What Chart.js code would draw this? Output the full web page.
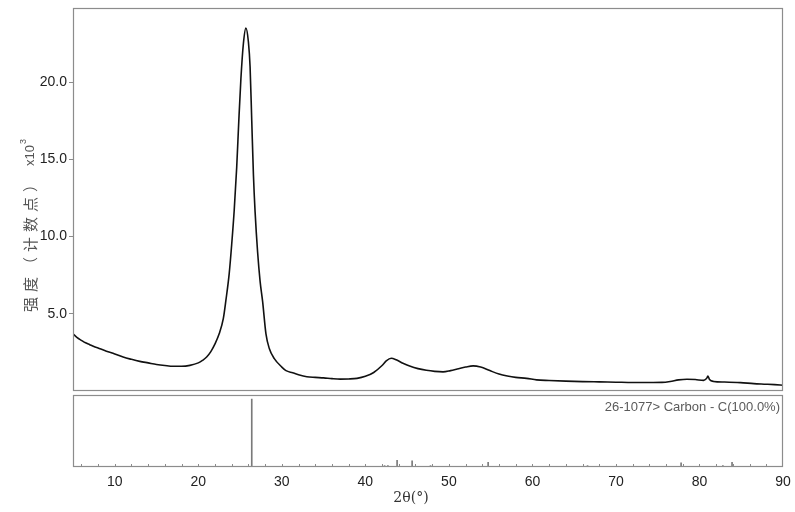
<!DOCTYPE html>
<html>
<head>
<meta charset="utf-8">
<script src="https://cdn.jsdelivr.net/npm/chart.js@4.4.0/dist/chart.umd.min.js"></script>
<style>
html, body { margin: 0; padding: 0; background: #fff; }
#wrap { position: relative; width: 795px; height: 512px; }
#topBox { position: absolute; left: 0; top: 0; width: 795px; height: 395px; }
#botBox { position: absolute; left: 0; top: 394px; width: 795px; height: 118px; }
</style>
</head>
<body>
<div id="wrap">
  <div id="topBox"><canvas id="xrdChart"></canvas></div>
  <div id="botBox"><canvas id="refChart"></canvas></div>
</div>
<script>
// measured pattern, 2θ in degrees, intensity in x10^3 counts
const twoTheta = [5.0, 5.5, 6.0, 6.5, 7.0, 7.5, 8.0, 9.0, 10.0, 11.0, 12.0, 13.0, 14.0, 15.0, 16.0, 17.0, 18.0, 19.0,
  20.0, 20.5, 21.0, 21.5, 22.0, 22.5, 23.0, 23.3, 23.7, 24.0, 24.3, 24.6, 24.85, 25.1, 25.4, 25.7, 26.0, 26.2, 26.4,
  26.6, 26.8, 27.1, 27.4, 27.7, 28.1, 28.5, 29.1, 30.0, 30.5, 31.3, 32.0, 33.0, 34.0, 35.0, 36.0, 37.0, 38.0, 39.0,
  40.0, 41.0, 42.0, 42.5, 43.1, 43.7, 44.5, 45.3, 46.3, 47.3, 48.3, 49.3, 50.2, 51.0, 52.0, 52.9, 53.8, 54.9, 56.0,
  57.0, 58.0, 59.3, 60.5, 62.0, 64.0, 66.0, 68.0, 70.0, 72.0, 74.0, 75.5, 76.5, 77.5, 78.5, 79.5, 80.5, 80.9, 81.0,
  81.2, 81.7, 83.0, 84.9, 86.5, 88.0, 89.0, 90.0];
const intensity = [3.70, 3.45, 3.28, 3.12, 3.00, 2.88, 2.78, 2.58, 2.40, 2.20, 2.05, 1.92, 1.82, 1.72, 1.65, 1.60, 1.60, 1.66,
  1.82, 1.98, 2.20, 2.55, 3.05, 3.70, 4.70, 5.85, 7.6, 9.5, 11.7, 14.5, 17.5, 20.2, 22.5, 23.5, 22.6, 21.0, 17.5,
  14.0, 11.6, 9.0, 7.1, 5.8, 3.7, 2.75, 2.1, 1.55, 1.32, 1.18, 1.05, 0.92, 0.88, 0.85, 0.80, 0.77, 0.78, 0.82,
  0.95, 1.20, 1.65, 1.95, 2.12, 2.02, 1.80, 1.62, 1.45, 1.34, 1.27, 1.24, 1.32, 1.42, 1.55, 1.63, 1.55, 1.32, 1.10,
  0.97, 0.88, 0.82, 0.72, 0.68, 0.64, 0.61, 0.59, 0.57, 0.55, 0.55, 0.56, 0.62, 0.72, 0.76, 0.74, 0.69, 0.85, 0.97,
  0.75, 0.62, 0.58, 0.54, 0.48, 0.44, 0.41, 0.37];

// reference card 26-1077 Carbon, relative intensity %
const refPos = [26.4, 42.3, 42.7, 43.8, 45.6, 47.8, 54.7, 66.6, 77.8, 82.8, 83.9];
const refInt = [100, 2, 2, 10, 9, 2, 7, 2, 6, 2, 7];
const refLabel = '26-1077> Carbon - C(100.0%)';

const yTicks = [5, 10, 15, 20];
const xTicks = [10, 20, 30, 40, 50, 60, 70, 80, 90];
const xMinorTicks = [6, 8, 10, 12, 14, 16, 18, 20, 22, 24, 26, 28, 30, 32, 34, 36, 38, 40, 42, 44, 46, 48, 50,
  52, 54, 56, 58, 60, 62, 64, 66, 68, 70, 72, 74, 76, 78, 80, 82, 84, 86, 88];
const yTitleMain = '强度（计数点）';
const xTitle = '2θ(°)';

const frameColor = '#8c8c8c';
const tickFont = { family: '"Liberation Sans", Arial, sans-serif', size: 14 };

const framePlugin = {
  id: 'frame',
  afterDraw(chart) {
    const { ctx, chartArea: a } = chart;
    ctx.save();
    ctx.strokeStyle = frameColor;
    ctx.lineWidth = 1.2;
    ctx.strokeRect(Math.round(a.left) + 0.5, Math.round(a.top) + 0.5,
      Math.round(a.right - a.left) - 1, Math.round(a.bottom - a.top) - 1);
    ctx.restore();
  }
};

const yTitlePlugin = {
  id: 'yTitle',
  afterDraw(chart) {
    const ctx = chart.ctx;
    ctx.save();
    ctx.translate(30, 312);
    ctx.rotate(-Math.PI / 2);
    ctx.fillStyle = '#555';
    ctx.textBaseline = 'middle';
    ctx.font = '15px "Noto Sans CJK SC", sans-serif';
    let w = 0;
    for (const ch of yTitleMain) {
      ctx.fillText(ch, w, 0);
      w += ctx.measureText(ch).width + 5;
    }
    w += 6;
    ctx.font = '13px "Liberation Sans", Arial, sans-serif';
    ctx.fillText('x10', w, 0);
    w += ctx.measureText('x10').width + 1;
    ctx.font = '9px "Liberation Sans", Arial, sans-serif';
    ctx.fillText('3', w, -6);
    ctx.restore();
  }
};

const refPlugin = {
  id: 'refDeco',
  afterDraw(chart) {
    const { ctx, chartArea: a } = chart;
    const xs = chart.scales.x;
    ctx.save();
    // inner ticks on the 2θ axis
    ctx.strokeStyle = frameColor;
    ctx.lineWidth = 1;
    xMinorTicks.forEach(v => {
      const px = Math.round(xs.getPixelForValue(v)) + 0.5;
      ctx.beginPath();
      ctx.moveTo(px, a.bottom);
      ctx.lineTo(px, a.bottom - 3);
      ctx.stroke();
    });
    // card label
    ctx.fillStyle = '#5a5a5a';
    ctx.font = '13px "Liberation Sans", Arial, sans-serif';
    ctx.textAlign = 'right';
    ctx.textBaseline = 'middle';
    ctx.fillText(refLabel, a.right - 3, a.top + 12);
    // axis title
    ctx.fillStyle = '#333';
    ctx.font = '14px "DejaVu Serif", "Liberation Serif", serif';
    ctx.textAlign = 'center';
    ctx.fillText(xTitle, 411, 104);
    ctx.restore();
  }
};

const xrdChart = new Chart(document.getElementById('xrdChart').getContext('2d'), {
  type: 'line',
  data: {
    datasets: [{
      data: twoTheta.map((x, i) => ({ x: x, y: intensity[i] })),
      borderColor: '#111',
      borderWidth: 1.6,
      pointRadius: 0,
      cubicInterpolationMode: 'monotone',
      fill: false
    }]
  },
  options: {
    responsive: true,
    maintainAspectRatio: false,
    animation: false,
    layout: { padding: { top: 8, right: 12, bottom: 4, left: 0 } },
    plugins: { legend: { display: false }, tooltip: { enabled: false } },
    scales: {
      x: { type: 'linear', min: 5, max: 90, display: false },
      y: {
        type: 'linear', min: 0, max: 24.8,
        afterBuildTicks: s => { s.ticks = yTicks.map(v => ({ value: v })); },
        afterFit: s => { s.width = 73; s.paddingTop = 0; s.paddingBottom = 0; },
        grid: { drawOnChartArea: false, drawTicks: true, tickLength: 4, color: frameColor },
        border: { display: false },
        ticks: { color: '#222', font: tickFont, padding: 2, callback: v => v.toFixed(1) }
      }
    }
  },
  plugins: [framePlugin, yTitlePlugin]
});

const refChart = new Chart(document.getElementById('refChart').getContext('2d'), {
  type: 'bar',
  data: {
    datasets: [{
      data: refPos.map((x, i) => ({ x: x, y: refInt[i] })),
      backgroundColor: '#7a7a7a',
      barThickness: 1
    }]
  },
  options: {
    responsive: true,
    maintainAspectRatio: false,
    animation: false,
    layout: { padding: { top: 1, right: 12, bottom: 0, left: 73 } },
    plugins: { legend: { display: false }, tooltip: { enabled: false } },
    scales: {
      x: {
        type: 'linear', min: 5, max: 90, offset: false,
        afterBuildTicks: s => { s.ticks = xTicks.map(v => ({ value: v })); },
        afterFit: s => { s.height = 45; s.paddingLeft = 0; s.paddingRight = 0; },
        grid: { display: true, offset: false, drawOnChartArea: false, drawTicks: false },
        border: { display: false },
        ticks: { color: '#222', font: tickFont, padding: 7, maxRotation: 0 }
      },
      y: { min: 0, max: 106, display: false }
    }
  },
  plugins: [framePlugin, refPlugin]
});
</script>
</body>
</html>
